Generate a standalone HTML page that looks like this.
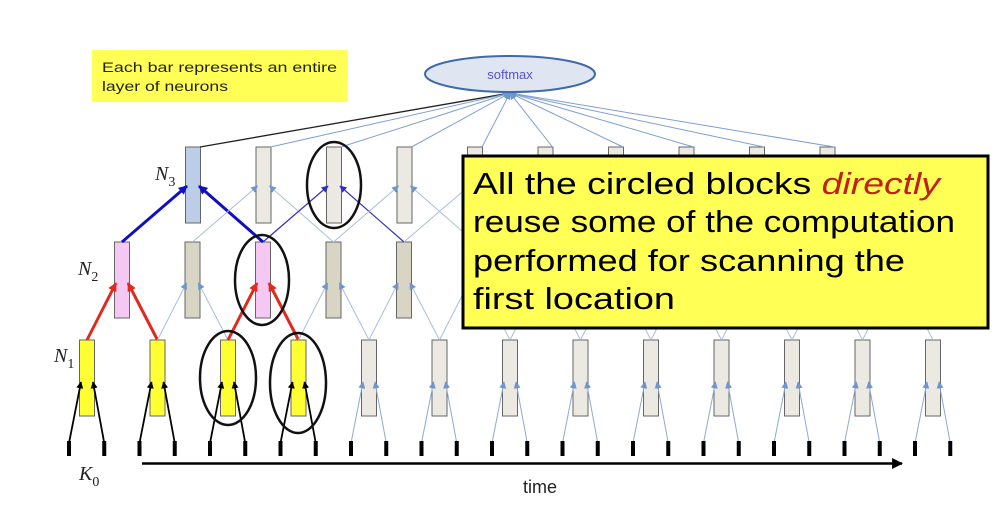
<!DOCTYPE html>
<html><head><meta charset="utf-8"><style>
html,body{margin:0;padding:0;background:#fff;}
svg{display:block;}
</style></head><body>
<svg id="s" width="996" height="522" viewBox="0 0 996 522" xmlns="http://www.w3.org/2000/svg">
<defs>
<marker id="al" viewBox="0 0 10 10" refX="9" refY="5" markerWidth="7" markerHeight="7" markerUnits="userSpaceOnUse" orient="auto"><path d="M0,0L10,5L0,10z" fill="#6f95cc"/></marker>
<marker id="ar" viewBox="0 0 10 10" refX="9" refY="5" markerWidth="9" markerHeight="9" markerUnits="userSpaceOnUse" orient="auto"><path d="M0,0L10,5L0,10z" fill="#e02a1e"/></marker>
<marker id="ad" viewBox="0 0 10 10" refX="9" refY="5" markerWidth="9" markerHeight="9" markerUnits="userSpaceOnUse" orient="auto"><path d="M0,0L10,5L0,10z" fill="#1010c0"/></marker>
<marker id="ap" viewBox="0 0 10 10" refX="9" refY="5" markerWidth="7" markerHeight="7" markerUnits="userSpaceOnUse" orient="auto"><path d="M0,0L10,5L0,10z" fill="#3030c0"/></marker>
<marker id="at" viewBox="0 0 10 10" refX="9" refY="5" markerWidth="7" markerHeight="7" markerUnits="userSpaceOnUse" orient="auto"><path d="M0,0L10,5L0,10z" fill="#000"/></marker>
<marker id="at2" viewBox="0 0 10 10" refX="9" refY="5" markerWidth="11" markerHeight="11" markerUnits="userSpaceOnUse" orient="auto"><path d="M0,0L10,5L0,10z" fill="#000"/></marker>
</defs>
<g id="bars"></g>
<g id="lines"></g>
<!-- note -->
<rect x="92" y="50" width="256" height="52" fill="#ffff55"/>
<text x="102" y="72" font-family="Liberation Sans, sans-serif" font-size="14" fill="#222" textLength="235" lengthAdjust="spacingAndGlyphs">Each bar represents an entire</text>
<text x="102" y="91" font-family="Liberation Sans, sans-serif" font-size="14" fill="#222" textLength="126" lengthAdjust="spacingAndGlyphs">layer of neurons</text>
<!-- softmax -->
<ellipse cx="510" cy="74" rx="85" ry="18" fill="#dfe5f1" stroke="#3f6aa8" stroke-width="2"/>
<text x="510" y="79" text-anchor="middle" font-family="Liberation Sans, sans-serif" font-size="13" fill="#5a52c8">softmax</text>
<!-- labels -->
<g font-family="Liberation Serif, serif" font-style="italic" font-size="20" fill="#222">
<text x="155" y="180">N<tspan font-size="14" font-style="normal" dy="6">3</tspan></text>
<text x="78" y="275">N<tspan font-size="14" font-style="normal" dy="6">2</tspan></text>
<text x="54" y="362">N<tspan font-size="14" font-style="normal" dy="6">1</tspan></text>
<text x="79" y="480">K<tspan font-size="14" font-style="normal" dy="6">0</tspan></text>
</g>
<line x1="142" y1="463.5" x2="902" y2="463.5" stroke="#000" stroke-width="2.5" marker-end="url(#at2)"/>
<text x="540" y="493" text-anchor="middle" font-family="Liberation Sans, sans-serif" font-size="18" fill="#222">time</text>
<!-- circles -->
<g fill="none" stroke="#111" stroke-width="2.5">
<ellipse cx="334" cy="185" rx="27" ry="43"/>
<ellipse cx="262" cy="280" rx="27" ry="45"/>
<ellipse cx="228" cy="378" rx="28" ry="47"/>
<ellipse cx="298" cy="383" rx="28" ry="50"/>
</g>
<!-- callout -->
<rect x="463" y="156" width="525" height="172" fill="#ffff55" stroke="#000" stroke-width="3"/>
<g font-family="Liberation Sans, sans-serif" font-size="31" fill="#000">
<text x="473" y="194" textLength="467" lengthAdjust="spacingAndGlyphs">All the circled blocks <tspan fill="#c0201a" font-style="italic">directly</tspan></text>
<text x="473" y="232" textLength="482" lengthAdjust="spacingAndGlyphs">reuse some of the computation</text>
<text x="473" y="271" textLength="432" lengthAdjust="spacingAndGlyphs">performed for scanning the</text>
<text x="473" y="309" textLength="202" lengthAdjust="spacingAndGlyphs">first location</text>
</g>
</svg>
<script>
(function(){
var NS="http://www.w3.org/2000/svg";
var L=document.getElementById("lines"),B=document.getElementById("bars");
function ln(x1,y1,x2,y2,c,w,m){var e=document.createElementNS(NS,"line");e.setAttribute("x1",x1);e.setAttribute("y1",y1);e.setAttribute("x2",x2);e.setAttribute("y2",y2);e.setAttribute("stroke",c);e.setAttribute("stroke-width",w);if(m)e.setAttribute("marker-end","url(#"+m+")");L.appendChild(e);}
function rc(p,x,y,w,h,f,s,sw){var e=document.createElementNS(NS,"rect");e.setAttribute("x",x);e.setAttribute("y",y);e.setAttribute("width",w);e.setAttribute("height",h);e.setAttribute("fill",f);e.setAttribute("stroke",s);e.setAttribute("stroke-width",sw);p.appendChild(e);}
var lb="#a9bedf";
for(var j=0;j<13;j++){var x=87+70.5*j;rc(B,x-7.5,340,15,76,j<4?"#ffff33":"#ebe9e1","#666",1);}
for(var j=0;j<12;j++){var x=122+70.5*j;rc(B,x-7.5,242,15,76,(j==0||j==2)?"#f5c8f3":"#d8d5c5","#666",1);}
for(var k=0;k<10;k++){var x=193+70.5*k;rc(B,x-7.5,147,15,76,k==0?"#bccde8":"#ebe9e1","#666",1);}
for(var k=0;k<10;k++){var x=193+70.5*k;ln(x+7,147,510,93,k==0?"#222":"#7f9fd0",k==0?1.3:1,k==0?null:"al");}
for(var j=0;j<13;j++){var x=87+70.5*j,t1=69+70.5*j,t2=t1+35.25;var c=j<4?"#000":"#8fa9d2",m=j<4?"at":"al",w=j<4?1.8:1;
 ln(t1,443,x-6,382,c,w,m);ln(t2,443,x+6,382,c,w,m);
 rc(L,t1-2,441,4,15,"#000","#000",0);rc(L,t2-2,441,4,15,"#000","#000",0);}
for(var j=0;j<12;j++){var x=122+70.5*j,a=87+70.5*j,b=a+70.5;var red=(j==0||j==2);
 ln(a,340,x-6,283,red?"#e02a1e":lb,red?3:1,red?"ar":"al");ln(b,340,x+6,283,red?"#e02a1e":lb,red?3:1,red?"ar":"al");}
for(var k=0;k<10;k++){var x=193+70.5*k,a=122+70.5*k,b=a+141;
 if(k==0){ln(a,242,x-6,186,"#1010c0",3,"ad");ln(b,242,x+6,186,"#1010c0",3,"ad");}
 else if(k==2){ln(a,242,x-6,186,"#3030c0",1.2,"ap");ln(b,242,x+6,186,"#3030c0",1.2,"ap");}
 else{ln(a,242,x-6,186,lb,1,"al");ln(b,242,x+6,186,lb,1,"al");}}
})();
</script>
</body></html>
